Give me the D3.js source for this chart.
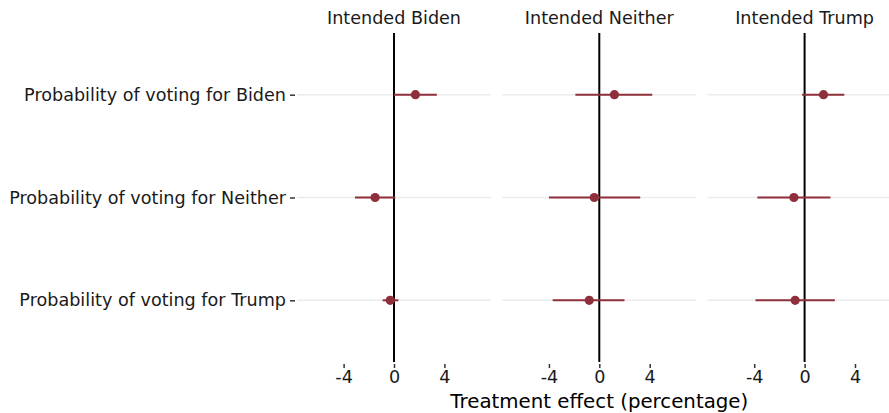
<!DOCTYPE html>
<html>
<head>
<script src="https://d3js.org/d3.v7.min.js"></script>
<style>
  body { margin: 0; background: #fff; }
  text { font-family: "DejaVu Sans", sans-serif; }
</style>
</head>
<body>
<script>
// facet groups and outcome rows
var groups = ["Intended Biden", "Intended Neither", "Intended Trump"];
var outcomes = ["Probability of voting for Biden", "Probability of voting for Neither", "Probability of voting for Trump"];

// estimates (rows = outcomes) for each facet
var estBiden   = [1.7, -1.5, -0.3];
var lowBiden   = [0.0, -3.1, -0.9];
var highBiden  = [3.4, 0.1, 0.35];

var estNeither  = [1.2, -0.4, -0.8];
var lowNeither  = [-1.9, -4.0, -3.7];
var highNeither = [4.2, 3.25, 2.0];

var estTrump   = [1.5, -0.85, -0.75];
var lowTrump   = [-0.2, -3.75, -3.9];
var highTrump  = [3.15, 2.05, 2.4];

var xTicks = [-4, 0, 4];

var est = [estBiden, estNeither, estTrump],
    low = [lowBiden, lowNeither, lowTrump],
    high = [highBiden, highNeither, highTrump];

var width = 889, height = 413;
var panelTop = 33, panelBottom = 362,
    panelLeft0 = 297, panelW = 194, panelStep = 205.3;
var col = "#8e2f3b";

var svg = d3.select("body").append("svg")
    .attr("width", width)
    .attr("height", height);

// y positions like ggplot discrete axis
var y = d3.scalePoint()
    .domain(outcomes)
    .range([panelTop, panelBottom])
    .padding(0.6);

// y axis labels
var yAxis = svg.append("g")
    .attr("transform", "translate(" + (panelLeft0 - 2) + ",0)")
    .call(d3.axisLeft(y).tickSize(5).tickPadding(4));
yAxis.select(".domain").remove();
yAxis.selectAll(".tick line").attr("stroke", "#333").attr("stroke-width", 1.5);
yAxis.selectAll("text")
    .style("font-size", "17.6px")
    .attr("fill", "#1a1a1a");

groups.forEach(function(g, i) {
    var left = panelLeft0 + i * panelStep;
    var x = d3.scaleLinear().domain([-7.7, 7.7]).range([left, left + panelW]);
    var p = svg.append("g");

    // horizontal grid lines
    p.selectAll(".grid")
        .data(outcomes)
        .enter().append("line")
        .attr("x1", left).attr("x2", left + panelW)
        .attr("y1", function(d) { return y(d); })
        .attr("y2", function(d) { return y(d); })
        .attr("stroke", "#ebebeb")
        .attr("stroke-width", 1.6);

    // zero reference line
    p.append("line")
        .attr("x1", x(0)).attr("x2", x(0))
        .attr("y1", panelTop).attr("y2", panelBottom)
        .attr("stroke", "#000")
        .attr("stroke-width", 2);

    // strip title
    p.append("text")
        .attr("x", left + panelW / 2)
        .attr("y", 24)
        .attr("text-anchor", "middle")
        .style("font-size", "17.6px")
        .attr("fill", "#1a1a1a")
        .text(g);

    var rows = outcomes.map(function(o, j) {
        return {o: o, e: est[i][j], lo: low[i][j], hi: high[i][j]};
    });

    p.selectAll(".ci")
        .data(rows)
        .enter().append("line")
        .attr("x1", function(d) { return x(d.lo); })
        .attr("x2", function(d) { return x(d.hi); })
        .attr("y1", function(d) { return y(d.o); })
        .attr("y2", function(d) { return y(d.o); })
        .attr("stroke", col)
        .attr("stroke-width", 2);

    p.selectAll(".pt")
        .data(rows)
        .enter().append("circle")
        .attr("cx", function(d) { return x(d.e); })
        .attr("cy", function(d) { return y(d.o); })
        .attr("r", 4.6)
        .attr("fill", col);

    // x axis
    var ax = p.append("g")
        .attr("transform", "translate(0," + (panelBottom + 2) + ")")
        .call(d3.axisBottom(x).tickValues(xTicks).tickSize(4).tickPadding(3)
            .tickFormat(function(d) { return d < 0 ? "-" + Math.abs(d) : d; }));
    ax.select(".domain").remove();
    ax.selectAll(".tick line").attr("stroke", "#333").attr("stroke-width", 1.5);
    ax.selectAll("text")
        .style("font-size", "17.6px")
        .attr("fill", "#1a1a1a");
});

// x axis title
svg.append("text")
    .attr("x", panelLeft0 + panelStep + panelW / 2)
    .attr("y", 408)
    .attr("text-anchor", "middle")
    .style("font-size", "19.8px")
    .attr("fill", "#000")
    .text("Treatment effect (percentage)");
</script>
</body>
</html>
